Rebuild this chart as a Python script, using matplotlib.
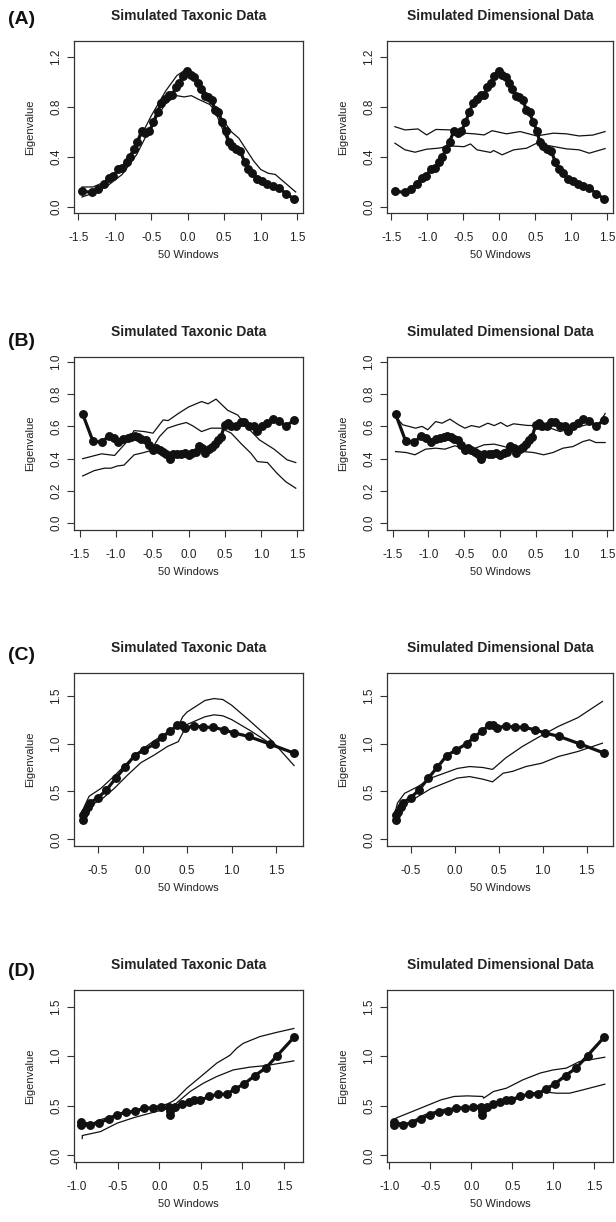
import matplotlib
matplotlib.use("Agg")
import matplotlib.pyplot as plt

plt.rcParams['font.family'] = ['Liberation Sans', 'DejaVu Sans']

# ---------------- data ----------------
# Row A
a_x = [-1.445,-1.31,-1.23,-1.15,-1.08,-1.02,-0.95,-0.90,-0.84,-0.79,-0.74,-0.69,-0.63,-0.58,-0.525,
       -0.47,-0.415,-0.365,-0.315,-0.26,-0.215,-0.165,-0.115,-0.07,-0.01,0.04,0.09,0.14,0.18,0.23,
       0.28,0.33,0.375,0.42,0.47,0.525,0.56,0.61,0.665,0.72,0.78,0.83,0.885,0.95,1.02,1.09,1.165,
       1.25,1.35,1.46]
a_y = [0.125,0.117,0.143,0.186,0.23,0.25,0.30,0.31,0.358,0.398,0.465,0.523,0.608,0.59,0.608,
       0.677,0.762,0.828,0.863,0.895,0.895,0.956,0.993,1.046,1.086,1.054,1.04,0.993,0.94,0.889,
       0.88,0.855,0.775,0.757,0.682,0.608,0.523,0.49,0.465,0.449,0.358,0.303,0.27,0.223,0.204,
       0.183,0.17,0.151,0.106,0.064]
a_tax1_x = [-1.45,-1.3,-1.1,-0.9,-0.7,-0.5,-0.3,-0.15,-0.05,0.05,0.15,0.3,0.45,0.55,0.7,0.85,1.0,1.2,1.35,1.48]
a_tax1_y = [0.16,0.16,0.21,0.32,0.50,0.73,0.93,1.05,1.09,1.08,1.0,0.87,0.66,0.52,0.44,0.30,0.21,0.16,0.11,0.06]
a_tax2_x = [-1.45,-1.3,-1.1,-0.9,-0.7,-0.5,-0.3,-0.15,-0.05,0.05,0.15,0.3,0.45,0.6,0.7,0.8,0.9,1.0,1.1,1.2,1.3,1.48]
a_tax2_y = [0.08,0.11,0.17,0.26,0.42,0.65,0.83,0.89,0.88,0.89,0.86,0.82,0.72,0.60,0.55,0.46,0.37,0.30,0.27,0.26,0.21,0.12]
a_dim1_x = [-1.45,-1.31,-1.13,-1.01,-0.88,-0.67,-0.49,-0.35,-0.21,-0.10,0.10,0.29,0.52,0.75,0.93,1.11,1.30,1.47]
a_dim1_y = [0.642,0.616,0.624,0.576,0.62,0.616,0.59,0.585,0.576,0.61,0.585,0.603,0.568,0.59,0.585,0.568,0.575,0.603]
a_dim2_x = [-1.45,-1.31,-1.17,-1.01,-0.85,-0.67,-0.49,-0.40,-0.31,-0.12,-0.08,0.04,0.20,0.38,0.52,0.61,0.75,0.93,1.11,1.25,1.47]
a_dim2_y = [0.51,0.457,0.438,0.462,0.47,0.488,0.482,0.504,0.457,0.436,0.452,0.417,0.457,0.47,0.51,0.497,0.484,0.465,0.457,0.43,0.467]

# Row B
b_x = [-1.46,-1.32,-1.20,-1.10,-1.03,-0.97,-0.90,-0.84,-0.79,-0.74,-0.69,-0.65,-0.59,-0.54,-0.49,
       -0.45,-0.40,-0.35,-0.31,-0.26,-0.22,-0.16,-0.11,-0.05,0.0,0.05,0.10,0.14,0.19,0.23,0.28,
       0.32,0.37,0.41,0.45,0.50,0.55,0.59,0.66,0.72,0.77,0.84,0.91,0.95,1.02,1.09,1.16,1.25,1.34,1.46]
b_y = [0.676,0.51,0.502,0.54,0.527,0.502,0.523,0.531,0.537,0.541,0.533,0.523,0.517,0.486,0.455,
       0.465,0.455,0.44,0.43,0.397,0.43,0.43,0.43,0.434,0.424,0.434,0.444,0.481,0.465,0.438,0.459,
       0.475,0.49,0.517,0.537,0.61,0.62,0.60,0.603,0.63,0.63,0.60,0.60,0.574,0.603,0.62,0.645,
       0.636,0.60,0.64]
b_tax1_x = [-1.46,-1.20,-1.02,-0.86,-0.75,-0.61,-0.49,-0.35,-0.28,-0.14,0.0,0.18,0.27,0.38,0.54,0.68,0.82,0.98,1.18,1.36,1.48]
b_tax1_y = [0.40,0.43,0.42,0.50,0.574,0.568,0.558,0.64,0.636,0.68,0.72,0.754,0.74,0.769,0.70,0.67,0.59,0.516,0.459,0.393,0.376]
b_tax2_x = [-1.46,-1.30,-1.16,-1.07,-0.98,-0.89,-0.75,-0.65,-0.52,-0.40,-0.29,-0.15,-0.03,0.06,0.18,0.31,0.45,0.59,0.72,0.86,0.95,1.09,1.22,1.34,1.48]
b_tax2_y = [0.293,0.326,0.341,0.341,0.355,0.36,0.424,0.434,0.45,0.537,0.589,0.61,0.624,0.603,0.568,0.589,0.589,0.558,0.496,0.434,0.382,0.376,0.31,0.258,0.217]
b_dim1_x = [-1.46,-1.36,-1.18,-1.09,-1.01,-0.90,-0.81,-0.70,-0.58,-0.49,-0.40,-0.29,-0.17,-0.08,0.01,0.10,0.19,0.38,0.47,0.56,0.70,0.84,1.02,1.25,1.39,1.47]
b_dim1_y = [0.66,0.61,0.589,0.60,0.579,0.63,0.62,0.645,0.61,0.589,0.605,0.595,0.62,0.605,0.624,0.60,0.616,0.606,0.605,0.579,0.59,0.568,0.59,0.614,0.62,0.68]
b_dim2_x = [-1.46,-1.31,-1.19,-1.04,-0.90,-0.77,-0.63,-0.49,-0.35,-0.22,-0.08,0.06,0.20,0.33,0.47,0.61,0.74,0.88,1.02,1.16,1.25,1.34,1.47]
b_dim2_y = [0.444,0.438,0.424,0.459,0.465,0.459,0.48,0.459,0.465,0.486,0.49,0.475,0.455,0.444,0.438,0.424,0.438,0.465,0.475,0.506,0.517,0.50,0.50]

# Row C
c_x = [-0.67,-0.67,-0.65,-0.61,-0.59,-0.50,-0.41,-0.30,-0.20,-0.09,0.02,0.14,0.22,0.31,0.39,0.44,
       0.48,0.58,0.68,0.79,0.91,1.03,1.19,1.43,1.70]
c_y = [0.20,0.25,0.29,0.34,0.38,0.436,0.51,0.64,0.75,0.875,0.935,1.0,1.067,1.13,1.19,1.196,
       1.16,1.186,1.17,1.17,1.144,1.11,1.074,0.994,0.90]
c_tax1_x = [-0.69,-0.60,-0.47,-0.32,-0.17,-0.02,0.13,0.28,0.40,0.45,0.50,0.60,0.70,0.80,0.90,1.0,1.20,1.45,1.70]
c_tax1_y = [0.27,0.45,0.53,0.66,0.80,0.93,1.03,1.12,1.18,1.28,1.33,1.39,1.45,1.47,1.46,1.40,1.24,1.03,0.77]
c_tax2_x = [-0.69,-0.62,-0.47,-0.32,-0.17,-0.02,0.13,0.28,0.40,0.45,0.50,0.60,0.70,0.80,0.90,1.0,1.20,1.45,1.70]
c_tax2_y = [0.17,0.34,0.41,0.53,0.67,0.80,0.88,0.97,1.02,1.11,1.20,1.24,1.28,1.30,1.29,1.25,1.14,0.99,0.90]
c_dim1_x = [-0.67,-0.65,-0.57,-0.42,-0.27,-0.12,0.03,0.17,0.32,0.43,0.58,0.77,0.96,1.18,1.40,1.68]
c_dim1_y = [0.31,0.38,0.48,0.55,0.64,0.69,0.74,0.76,0.75,0.73,0.85,0.97,1.07,1.18,1.27,1.44]
c_dim2_x = [-0.67,-0.61,-0.42,-0.27,-0.12,0.03,0.17,0.32,0.43,0.55,0.66,0.81,0.99,1.18,1.40,1.68]
c_dim2_y = [0.25,0.34,0.446,0.53,0.585,0.64,0.655,0.628,0.60,0.69,0.71,0.76,0.795,0.865,0.917,1.004]

# Row D
d_x = [-0.94,-0.94,-0.84,-0.73,-0.61,-0.51,-0.40,-0.29,-0.19,-0.08,0.02,0.12,0.13,0.13,0.19,
       0.27,0.35,0.42,0.49,0.60,0.70,0.81,0.91,1.02,1.15,1.28,1.42,1.62]
d_y = [0.31,0.335,0.31,0.325,0.37,0.41,0.436,0.443,0.477,0.477,0.483,0.487,0.443,0.41,0.483,
       0.52,0.537,0.554,0.554,0.594,0.617,0.617,0.67,0.72,0.805,0.88,1.007,1.19]
d_tax1_x = [-0.94,-0.71,-0.51,-0.31,-0.11,0.09,0.17,0.21,0.33,0.49,0.69,0.85,0.93,1.01,1.21,1.41,1.62]
d_tax1_y = [0.275,0.36,0.41,0.443,0.483,0.517,0.55,0.577,0.678,0.789,0.93,1.01,1.08,1.13,1.198,1.24,1.28]
d_tax2_x = [-0.93,-0.93,-0.71,-0.51,-0.31,-0.11,0.09,0.17,0.25,0.37,0.53,0.69,0.89,1.09,1.29,1.62]
d_tax2_y = [0.17,0.20,0.24,0.325,0.38,0.426,0.47,0.50,0.56,0.644,0.728,0.795,0.862,0.89,0.906,0.953]
d_dim1_x = [-0.92,-0.92,-0.77,-0.57,-0.37,-0.21,-0.05,0.14,0.15,0.27,0.43,0.63,0.84,1.0,1.16,1.32,1.63]
d_dim1_y = [0.31,0.376,0.426,0.493,0.56,0.594,0.60,0.594,0.577,0.644,0.678,0.762,0.83,0.862,0.88,0.946,0.99]
d_dim2_x = [-0.92,-0.77,-0.57,-0.37,-0.17,-0.01,0.14,0.15,0.27,0.43,0.63,0.84,1.04,1.20,1.36,1.63]
d_dim2_y = [0.29,0.325,0.41,0.46,0.483,0.493,0.51,0.476,0.51,0.56,0.61,0.644,0.627,0.627,0.66,0.718]

titles = ["Simulated Taxonic Data", "Simulated Dimensional Data"]
row_labels = ["(A)", "(B)", "(C)", "(D)"]
x_label = "50 Windows"
y_label = "Eigenvalue"

rows = [
    dict(x=a_x, y=a_y,
         left=[(a_tax1_x, a_tax1_y), (a_tax2_x, a_tax2_y)],
         right=[(a_dim1_x, a_dim1_y), (a_dim2_x, a_dim2_y)],
         xlim=(-1.56, 1.58), ylim=(-0.048, 1.327),
         xticks=[-1.5, -1.0, -0.5, 0.0, 0.5, 1.0, 1.5], yticks=[0.0, 0.4, 0.8, 1.2]),
    dict(x=b_x, y=b_y,
         left=[(b_tax1_x, b_tax1_y), (b_tax2_x, b_tax2_y)],
         right=[(b_dim1_x, b_dim1_y), (b_dim2_x, b_dim2_y)],
         xlim=(-1.58, 1.58), ylim=(-0.042, 1.03),
         xticks=[-1.5, -1.0, -0.5, 0.0, 0.5, 1.0, 1.5], yticks=[0.0, 0.2, 0.4, 0.6, 0.8, 1.0]),
    dict(x=c_x, y=c_y,
         left=[(c_tax1_x, c_tax1_y), (c_tax2_x, c_tax2_y)],
         right=[(c_dim1_x, c_dim1_y), (c_dim2_x, c_dim2_y)],
         xlim=(-0.77, 1.80), ylim=(-0.07, 1.737),
         xticks=[-0.5, 0.0, 0.5, 1.0, 1.5], yticks=[0.0, 0.5, 1.0, 1.5]),
    dict(x=d_x, y=d_y,
         left=[(d_tax1_x, d_tax1_y), (d_tax2_x, d_tax2_y)],
         right=[(d_dim1_x, d_dim1_y), (d_dim2_x, d_dim2_y)],
         xlim=(-1.03, 1.73), ylim=(-0.067, 1.668),
         xticks=[-1.0, -0.5, 0.0, 0.5, 1.0, 1.5], yticks=[0.0, 0.5, 1.0, 1.5]),
]

# ---------------- layout (pixels) ----------------
W, H = 616, 1222
fig = plt.figure(figsize=(W / 100, H / 100), dpi=100)
col_px = [(74, 303), (387, 613)]
row_px = [(41, 213), (357, 530), (673, 846), (990, 1162)]
label_y_px = [19, 341, 655, 971]

axis_col = '#333333'

for r, row in enumerate(rows):
    top, bot = row_px[r]
    for c in range(2):
        x0, x1 = col_px[c]
        ax = fig.add_axes([x0 / W, 1 - bot / H, (x1 - x0) / W, (bot - top) / H])
        for (tx, ty) in (row['left'] if c == 0 else row['right']):
            ax.plot(tx, ty, color='#111111', lw=0.9, solid_joinstyle='round')
        ax.plot(row['x'], row['y'], color='#111111', lw=2.3, marker='o',
                markersize=5.4, markerfacecolor='#111111', markeredgecolor='#111111')
        ax.set_xlim(*row['xlim'])
        ax.set_ylim(*row['ylim'])
        ax.set_xticks(row['xticks'])
        ax.set_xticklabels([f"{v:.1f}" for v in row['xticks']])
        ax.set_yticks(row['yticks'])
        ax.set_yticklabels([f"{v:.1f}" for v in row['yticks']], rotation=90, va='center')
        ax.tick_params(axis='both', direction='out', length=5, width=0.8,
                       color=axis_col, labelsize=8.5, labelcolor='#222222')
        ax.tick_params(axis='x', pad=9)
        ax.tick_params(axis='y', pad=3.5)
        for sp in ax.spines.values():
            sp.set_color(axis_col)
            sp.set_linewidth(0.9)
        ax.set_title(titles[c], fontsize=10, fontweight='bold', color='#222222', pad=15)
        ax.set_xlabel(x_label, fontsize=8, color='#222222', labelpad=4)
        ax.set_ylabel(y_label, fontsize=8, color='#222222', labelpad=10.5)
    fig.text(8 / W, 1 - label_y_px[r] / H, row_labels[r], fontsize=14, fontweight='bold',
             ha='left', va='center', color='#111111')

fig.savefig('out.png', dpi=100)
